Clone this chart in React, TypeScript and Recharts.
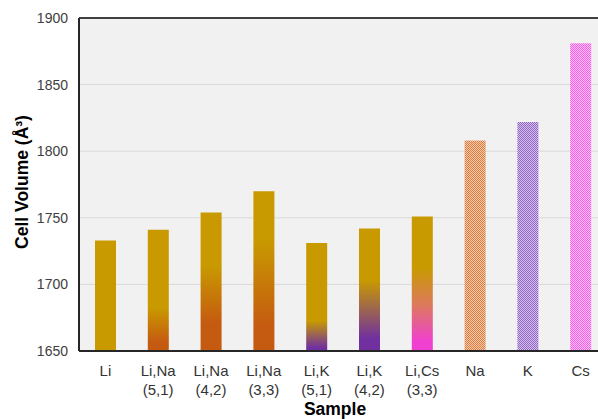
import React from "react";
import {
  ComposedChart,
  Bar,
  Cell,
  XAxis,
  YAxis,
  CartesianGrid,
  ReferenceLine,
} from "recharts";

// Sample labels (two lines each) and measured cell volumes
const sampleTop = ["Li", "Li,Na", "Li,Na", "Li,Na", "Li,K", "Li,K", "Li,Cs", "Na", "K", "Cs"];
const sampleBottom = ["", "(5,1)", "(4,2)", "(3,3)", "(5,1)", "(4,2)", "(3,3)", "", "", ""];
const cellVolume = [1733, 1741, 1754, 1770, 1731, 1742, 1751, 1808, 1822, 1881];
const volumeTicks = [1650, 1700, 1750, 1800, 1850, 1900];

// Fill for each bar: gradients for mixed samples, dotted patterns for pure ones
const barFills = [
  "#c89a00",
  "url(#gLiNa51)",
  "url(#gLiNa42)",
  "url(#gLiNa33)",
  "url(#gLiK51)",
  "url(#gLiK42)",
  "url(#gLiCs33)",
  "url(#pNa)",
  "url(#pK)",
  "url(#pCs)",
];

const data = cellVolume.map((v, i) => ({
  name: `${sampleTop[i]} ${sampleBottom[i]}`.trim(),
  top: sampleTop[i],
  bottom: sampleBottom[i],
  volume: v,
}));

const FONT = "Arial, 'Liberation Sans', sans-serif";
const GOLD = "#c89a00";

const SampleTick = (props: any) => {
  const { x, y, index } = props;
  return (
    <g>
      <text x={x} y={y + 25} textAnchor="middle" fontSize={15} fontFamily={FONT} fill="#333">
        {sampleTop[index]}
      </text>
      {sampleBottom[index] ? (
        <text x={x} y={y + 44} textAnchor="middle" fontSize={15} fontFamily={FONT} fill="#333">
          {sampleBottom[index]}
        </text>
      ) : null}
    </g>
  );
};

const Grad = ({ id, to, a, b, mid }: { id: string; to: string; a: number; b: number; mid?: string }) => (
  <linearGradient id={id} x1="0" y1="0" x2="0" y2="1">
    <stop offset={0} stopColor={GOLD} />
    <stop offset={a} stopColor={GOLD} />
    {mid ? <stop offset={(a + b) / 2} stopColor={mid} /> : null}
    <stop offset={b} stopColor={to} />
    <stop offset={1} stopColor={to} />
  </linearGradient>
);

const Dots = ({ id, dark, light }: { id: string; dark: string; light: string }) => (
  <pattern id={id} width={2} height={2} patternUnits="userSpaceOnUse">
    <rect width={2} height={2} fill={light} />
    <rect x={0} y={0} width={1} height={1} fill={dark} />
    <rect x={1} y={1} width={1} height={1} fill={dark} />
  </pattern>
);

export default function App() {
  return (
    <div style={{ position: "absolute", left: 0, top: 0, width: 598, height: 419, overflow: "hidden", background: "#fff" }}>
      <ComposedChart
        width={620}
        height={419}
        data={data}
        margin={{ top: 18, right: 13, bottom: 18, left: 0 }}
      >
        <defs>
          <Grad id="gLiNa51" to="#c55a11" a={0.64} b={0.93} />
          <Grad id="gLiNa42" to="#c55a11" a={0.38} b={0.8} />
          <Grad id="gLiNa33" to="#c55a11" a={0.3} b={0.85} />
          <Grad id="gLiK51" to="#7030a0" a={0.72} b={0.97} />
          <Grad id="gLiK42" to="#7030a0" a={0.42} b={0.9} />
          <Grad id="gLiCs33" to="#f040d0" a={0.38} b={0.93} mid="#dc7a5c" />
          <Dots id="pNa" dark="#dd7b3e" light="#f5cbb0" />
          <Dots id="pK" dark="#9366c8" light="#d3bfe8" />
          <Dots id="pCs" dark="#f560e5" light="#ffc0f7" />
        </defs>
        <CartesianGrid vertical={false} stroke="#d9d9d9" fill="#f1f1f1" />
        <XAxis
          dataKey="name"
          interval={0}
          tick={<SampleTick />}
          tickLine={false}
          axisLine={{ stroke: "#262626", strokeWidth: 2 }}
          height={50}
          tickSize={0}
          tickMargin={0}
        />
        <YAxis
          domain={[1650, 1900]}
          ticks={volumeTicks}
          interval={0}
          allowDataOverflow
          width={79}
          tickLine={false}
          tickMargin={5}
          axisLine={{ stroke: "#262626", strokeWidth: 2 }}
          tick={{ fontSize: 14, fontFamily: FONT, fill: "#404040" }}
        />
        <ReferenceLine y={1900} stroke="#404040" strokeWidth={2} />
        <Bar dataKey="volume" barSize={21} isAnimationActive={false}>
          {data.map((d, i) => (
            <Cell key={d.name + i} fill={barFills[i]} />
          ))}
        </Bar>
        <text
          x={22}
          y={182}
          transform="rotate(-90 22 182)"
          textAnchor="middle"
          dominantBaseline="central"
          fontSize={17.5}
          fontWeight="bold"
          fontFamily={FONT}
          fill="#000"
        >
          Cell Volume (Å³)
        </text>
        <text
          x={335}
          y={415}
          textAnchor="middle"
          fontSize={17.5}
          fontWeight="bold"
          fontFamily={FONT}
          fill="#000"
        >
          Sample
        </text>
      </ComposedChart>
    </div>
  );
}
